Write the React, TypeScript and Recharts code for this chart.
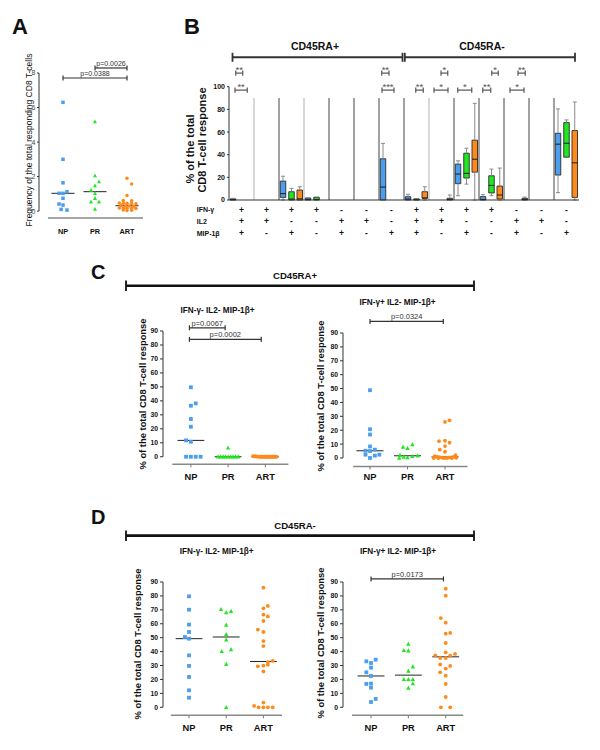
import React from 'react';
import { ScatterChart, Scatter, XAxis, YAxis, ReferenceLine, ReferenceArea } from 'recharts';

const FONT = '"Liberation Sans", Arial, Helvetica, sans-serif';
const BLUE = '#4b9eee';
const GREEN = '#22e622';
const ORANGE = '#ff8a1c';

const GROUPS = ['NP', 'PR', 'ART'];

// ---------- Panel A ----------
const A_NP = [6.3, 3.0, 1.64, 1.03, 1.03, 1.12, 0.74, 0.41, 0.35, 0.1, 0.06];
const A_NP_JIT = [0, 0, 0, -0.125, 0, 0.125, 0, -0.125, 0, -0.06, 0.125];
const A_PR = [5.18, 2.05, 1.7, 1.47, 1.22, 1.03, 0.74, 0.54, 0.54, 0.12];
const A_PR_JIT = [0, 0, 0.125, 0, -0.125, 0, 0, -0.125, 0.125, 0];
const A_ART = [1.9, 1.57, 0.9, 0.62, 0.6, 0.47, 0.45, 0.45, 0.44, 0.42, 0.32, 0.3, 0.3, 0.28, 0.18, 0.17, 0.16, 0.17, 0.15, 0.06, 0.04, 0.05];
const A_ART_JIT = [0, 0.145, 0, -0.115, 0.145, -0.24, -0.115, 0, 0.145, 0.28, -0.18, -0.05, 0.07, 0.21, -0.24, -0.115, 0, 0.145, 0.28, -0.115, 0, 0.145];
const A_TICKS = [0, 2, 4, 6, 8];
const A_BRACKETS = [
  { x1: 2, x2: 3, y: 8.29, label: 'p=0.0026' },
  { x1: 1, x2: 3, y: 7.71, label: 'p=0.0388' },
];

// ---------- Panel C ----------
const CD_TICKS = [0, 10, 20, 30, 40, 50, 60, 70, 80, 90];
const C1_NP = [49.7, 38.2, 36.5, 27, 21.5, 11.7, 10.7, 0, 0, 0, 0];
const C1_NP_JIT = [0, 0.13, 0, 0, 0, -0.13, 0, -0.13, 0, 0.13, 0.26];
const C1_PR = [6.4, 0, 0, 0, 0, 0, 0, 0, 0, 0];
const C1_PR_JIT = [0, -0.27, -0.2, -0.13, -0.07, 0, 0.07, 0.13, 0.2, 0.27];
const C1_ART = [0.4, 0.3, 0.2, 0.2, 0.1, 0.1, 0, 0, 0, 0, 0, 0, 0, 0, 0, 0, 0, 0, 0, 0, 0, 0];
const C1_ART_JIT = [-0.33, -0.3, -0.27, -0.24, -0.21, -0.18, -0.15, -0.12, -0.09, -0.06, -0.03, 0, 0.03, 0.06, 0.09, 0.12, 0.15, 0.18, 0.21, 0.24, 0.27, 0.3];
const C1_BRACKETS = [
  { x1: 0.96, x2: 1.92, y: 92.3, label: 'p=0.0067' },
  { x1: 0.96, x2: 2.89, y: 84, label: 'p=0.0002' },
];

const C2_NP = [48.8, 20.7, 16.9, 8.3, 6.0, 5.2, 5.0, 2.4, 2.4, 1.7, 0];
const C2_NP_JIT = [0, 0, 0, 0, 0.13, -0.12, 0, -0.12, 0.25, 0.13, 0];
const C2_PR = [9.8, 7.9, 7.1, 2.0, 1.6, 1.2, 0.7, 0.3, 0];
const C2_PR_JIT = [0.13, -0.12, 0, -0.2, 0.27, 0.13, -0.1, 0, -0.22];
const C2_ART = [27.1, 26.0, 12.4, 12.1, 11.0, 8.6, 6.0, 4.5, 2.1, 1.2, 0.9, 0.7, 0.6, 0.4, 0.3, 0.2, 0.1, 0, 0, 0, 0, 0];
const C2_ART_JIT = [0.12, 0, 0, -0.16, 0.12, 0, -0.14, 0, 0.28, -0.28, -0.22, 0.22, -0.15, 0.15, -0.08, 0.08, 0.3, -0.3, -0.04, 0.04, 0.18, -0.18];
const C2_BRACKETS = [{ x1: 1.0, x2: 2.955, y: 98.3, label: 'p=0.0324' }];

// ---------- Panel D ----------
const D1_NP = [79.7, 70.1, 59.4, 54.1, 50.5, 49.3, 37.3, 29.7, 21.8, 12.2, 6.9];
const D1_NP_JIT = [0, 0, 0, 0, -0.11, 0, 0, 0, 0, 0, 0];
const D1_PR = [70.4, 69, 68, 59.1, 52.4, 48.6, 41.6, 40.2, 30.9, 0];
const D1_PR_JIT = [-0.14, 0.13, 0, 0, 0, 0, 0.13, -0.12, 0, 0];
const D1_ART = [85.9, 72.8, 71.1, 66.5, 65.3, 62, 55.8, 54.1, 47.6, 44, 33.3, 32.5, 30.6, 29.9, 29.4, 25.8, 3.4, 1.0, 0, 0, 0, 0];
const D1_ART_JIT = [0, 0.12, 0, 0, 0.12, 0, -0.15, 0, 0, 0, 0.25, 0.12, 0.12, 0, -0.15, 0, 0, -0.25, -0.13, 0, 0.12, 0.25];

const D2_NP = [34.2, 33, 31.8, 28.5, 25.1, 22.5, 17, 16.8, 14.1, 6, 3.8];
const D2_NP_JIT = [0.125, -0.125, 0, 0, -0.125, 0, 0, -0.125, 0, 0.125, 0];
const D2_PR = [45.5, 40.9, 40.7, 29.2, 26.1, 20.1, 20.1, 20.1, 17, 13.9];
const D2_PR_JIT = [0, -0.12, 0, 0.12, 0, -0.12, 0, 0.12, 0.12, 0];
const D2_ART = [85.2, 80.2, 64.1, 60.8, 53.4, 52.9, 46.2, 39.5, 38.3, 37.3, 37.1, 35.4, 35.4, 30.8, 29.7, 27.8, 25.1, 22.7, 16.8, 7.4, 0, 0];
const D2_ART_JIT = [0, 0, -0.13, 0, 0.12, 0, 0, 0, 0.25, -0.28, 0.12, -0.15, 0, -0.15, 0.12, 0, -0.15, 0, 0, 0, -0.13, 0.12];
const D2_BRACKETS = [{ x1: 1.0, x2: 2.94, y: 92.2, label: 'p=0.0173' }];

// ---------- Panel B (box plots: [min, q1, median, q3, max]) ----------
const B_IFN = ['+', '+', '+', '+', '-', '-', '-', '+', '+', '+', '+', '-', '-', '-'];
const B_IL2 = ['+', '+', '-', '-', '+', '+', '-', '+', '+', '-', '-', '+', '+', '-'];
const B_MIP = ['+', '-', '+', '-', '+', '-', '+', '+', '-', '+', '-', '+', '-', '+'];
type Box = number[] | null;
const B_NP: Box[] = [
  [0, 0, 0.3, 1, 1.5], null, [0, 2.3, 5.6, 16.7, 21], [0, 0, 0.5, 1.8, 1.8], null, null, [0, 0, 11.4, 36.4, 50],
  [0, 0, 0.8, 2.9, 5], null, [3.8, 14.4, 22.9, 31.7, 34.6], [0, 0, 0.5, 3, 4.7], null, null, [6.5, 22, 49.3, 58.9, 80.4],
];
const B_PR: Box[] = [
  null, null, [0, 0, 0.8, 7.3, 10.3], [0, 0, 0.5, 2.5, 2.5], null, null, null,
  [0, 0, 0.3, 1, 1], null, [14, 19.4, 23.5, 41.3, 45.7], [3.8, 6.2, 12.9, 21.4, 27.3], null, null, [37.8, 37.8, 50.1, 68.3, 70.7],
];
const B_ART: Box[] = [
  null, null, [0, 0, 1, 8.8, 11.7], null, null, null, null,
  [0, 1.5, 1.8, 7.3, 11.7], [0, 0, 0.5, 1.5, 4.4], [0, 24.6, 36, 52.8, 85.3], [0, 0.9, 4.4, 12.3, 28.2], [0, 0, 0.5, 1.5, 2.6], null, [0, 2.3, 32.8, 61.3, 86.5],
];
const B_TICKS = [0, 20, 40, 60, 80, 100];
const B_LIGHT_SEPARATORS = [1, 3, 8];
const B_BRACKETS = [
  { x1: 0.27, x2: 0.55, y: 112, label: '**' },
  { x1: 6.11, x2: 6.4, y: 112, label: '**' },
  { x1: 8.48, x2: 8.75, y: 112, label: '*' },
  { x1: 10.51, x2: 10.77, y: 112, label: '*' },
  { x1: 11.56, x2: 11.85, y: 112, label: '**' },
  { x1: 0.24, x2: 0.73, y: 97, label: '**' },
  { x1: 6.12, x2: 6.6, y: 97, label: '***' },
  { x1: 7.47, x2: 7.77, y: 97, label: '**' },
  { x1: 8.2, x2: 8.76, y: 97, label: '*' },
  { x1: 9.15, x2: 9.71, y: 97, label: '*' },
  { x1: 10.15, x2: 10.47, y: 97, label: '**' },
  { x1: 11.24, x2: 11.8, y: 97, label: '*' },
];

const median = (a: number[]) => {
  const s = [...a].sort((p, q) => p - q);
  const n = s.length;
  return n % 2 ? s[(n - 1) / 2] : (s[n / 2 - 1] + s[n / 2]) / 2;
};

type Kind = 'square' | 'triangle' | 'circle';
const makeShape = (kind: Kind, color: string, size: number) => (p: any) => {
  const { cx, cy } = p;
  if (cx == null || cy == null) return <g />;
  if (kind === 'square')
    return <rect x={cx - size / 2} y={cy - size / 2} width={size} height={size} fill={color} />;
  if (kind === 'triangle') {
    const w = size * 1.15;
    return (
      <polygon
        points={`${cx},${cy - w * 0.55} ${cx - w / 2},${cy + w * 0.4} ${cx + w / 2},${cy + w * 0.4}`}
        fill={color}
      />
    );
  }
  return <circle cx={cx} cy={cy} r={size / 2} fill={color} />;
};

const bracketEls = (
  key: string,
  b: { x1: number; x2: number; y: number; label: string },
  cap: number,
  color: string,
  fontSize: number,
  sw: number,
  gap: number
) => [
  <ReferenceLine
    key={key + 'h'}
    segment={[{ x: b.x1, y: b.y }, { x: b.x2, y: b.y }]}
    stroke={color}
    strokeWidth={sw}
    ifOverflow="visible"
    label={(p: any) => {
      const vb = p && p.viewBox;
      if (!vb || vb.x == null) return <g />;
      return (
        <text
          x={vb.x + (vb.width || 0) / 2}
          y={vb.y - gap}
          textAnchor="middle"
          fontSize={fontSize}
          fill={color}
          stroke="none"
          fontFamily={FONT}
        >
          {b.label}
        </text>
      );
    }}
  />,
  <ReferenceLine
    key={key + 'l'}
    segment={[{ x: b.x1, y: b.y - cap }, { x: b.x1, y: b.y + cap }]}
    stroke={color}
    strokeWidth={sw}
    ifOverflow="visible"
  />,
  <ReferenceLine
    key={key + 'r'}
    segment={[{ x: b.x2, y: b.y - cap }, { x: b.x2, y: b.y + cap }]}
    stroke={color}
    strokeWidth={sw}
    ifOverflow="visible"
  />,
];

type Series = { values: number[]; jitter: number[]; color: string; kind: Kind };

function DotPanel(props: {
  left: number;
  top: number;
  right: number;
  bottom: number;
  xDomain: [number, number];
  yDomain: [number, number];
  yTicks: number[];
  axisX: [number, number];
  series: Series[];
  brackets: { x1: number; x2: number; y: number; label: string }[];
  cap: number;
  small?: boolean;
  catDy: number;
  marker: number;
}) {
  const { left, top, right, bottom, xDomain, yDomain, yTicks, axisX, series, brackets, cap, small, catDy, marker } = props;
  const YW = 40, MT = 40, MR = 12, XH = 30;
  const width = YW + (right - left) + MR;
  const height = MT + (bottom - top) + XH;
  const yMax = yTicks[yTicks.length - 1];
  const xTickSize = small ? 0 : 3;
  return (
    <div style={{ position: 'absolute', left: left - YW, top: top - MT, width, height }}>
      <ScatterChart width={width} height={height} margin={{ top: MT, right: MR, bottom: 0, left: 0 }}>
        <XAxis
          type="number"
          dataKey="x"
          domain={xDomain}
          ticks={[1, 2, 3]}
          interval={0}
          axisLine={false}
          tickLine={small ? false : { stroke: '#777' }}
          tickSize={xTickSize}
          tickMargin={0}
          height={XH}
          tick={(p: any) => (
            <text
              x={p.x}
              y={p.y + catDy}
              dy="0.35em"
              textAnchor="middle"
              fontSize={small ? 7.3 : 9.3}
              fontWeight="bold"
              fontFamily={FONT}
              fill="#111"
            >
              {GROUPS[Math.round(p.payload.value) - 1]}
            </text>
          )}
        />
        <YAxis
          type="number"
          dataKey="y"
          domain={yDomain}
          ticks={yTicks}
          interval={0}
          axisLine={false}
          tickLine={{ stroke: '#333' }}
          tickSize={small ? 2 : 3}
          tickMargin={small ? 1.5 : 2}
          width={YW}
          tick={
            small
              ? { fontSize: 7, fill: '#444', fontFamily: FONT }
              : { fontSize: 6.8, fill: '#111', fontWeight: 'bold', fontFamily: FONT }
          }
        />
        <ReferenceLine
          segment={[{ x: axisX[0], y: yDomain[0] }, { x: axisX[1], y: yDomain[0] }]}
          stroke="#888"
          strokeWidth={1.5}
          ifOverflow="visible"
        />
        <ReferenceLine
          segment={[{ x: xDomain[0], y: 0 }, { x: xDomain[0], y: yMax }]}
          stroke="#333"
          strokeWidth={1}
          ifOverflow="visible"
        />
        {series.map((s, i) => (
          <Scatter
            key={'s' + i}
            data={s.values.map((v, j) => ({ x: i + 1 + s.jitter[j], y: v }))}
            shape={makeShape(s.kind, s.color, marker)}
            isAnimationActive={false}
          />
        ))}
        {series.map((s, i) => {
          const m = median(s.values);
          return (
            <ReferenceLine
              key={'m' + i}
              segment={[{ x: i + 1 - 0.36, y: m }, { x: i + 1 + 0.36, y: m }]}
              stroke="#222"
              strokeWidth={1}
              ifOverflow="visible"
            />
          );
        })}
        {brackets.flatMap((b, i) => bracketEls('b' + i, b, cap, '#333', small ? 7 : 7.5, 1.2, 2))}
      </ScatterChart>
    </div>
  );
}

const BOX_OFFSETS = [-0.34, 0, 0.33];
const BOX_HALF = 0.11;

function BoxPanel() {
  const left = 229, right = 579, top = 86.7;
  const YW = 49, MR = 21, XH = 40;
  const width = YW + (right - left) + MR;
  const height = 240;
  const sets: { boxes: Box[]; color: string }[] = [
    { boxes: B_NP, color: BLUE },
    { boxes: B_PR, color: GREEN },
    { boxes: B_ART, color: ORANGE },
  ];
  const els: any[] = [];
  for (let k = 1; k <= 13; k++) {
    els.push(
      <ReferenceLine
        key={'sep' + k}
        segment={[{ x: k, y: 0 }, { x: k, y: 90 }]}
        stroke={B_LIGHT_SEPARATORS.includes(k) ? '#b0b0b0' : '#444'}
        strokeWidth={1}
        ifOverflow="visible"
      />
    );
  }
  sets.forEach((set, si) => {
    set.boxes.forEach((b, g) => {
      if (!b) return;
      const c = g + 0.5 + BOX_OFFSETS[si];
      const [mn, q1, md, q3, mx] = b;
      if (mx > q3) {
        els.push(
          <ReferenceLine key={`wu${si}-${g}`} segment={[{ x: c, y: q3 }, { x: c, y: mx }]} stroke="#8a8a8a" strokeWidth={1} ifOverflow="visible" />,
          <ReferenceLine key={`cu${si}-${g}`} segment={[{ x: c - 0.08, y: mx }, { x: c + 0.08, y: mx }]} stroke="#8a8a8a" strokeWidth={1} ifOverflow="visible" />
        );
      }
      if (mn < q1) {
        els.push(
          <ReferenceLine key={`wl${si}-${g}`} segment={[{ x: c, y: mn }, { x: c, y: q1 }]} stroke="#8a8a8a" strokeWidth={1} ifOverflow="visible" />,
          <ReferenceLine key={`cl${si}-${g}`} segment={[{ x: c - 0.08, y: mn }, { x: c + 0.08, y: mn }]} stroke="#8a8a8a" strokeWidth={1} ifOverflow="visible" />
        );
      }
      els.push(
        <ReferenceArea
          key={`bx${si}-${g}`}
          x1={c - BOX_HALF}
          x2={c + BOX_HALF}
          y1={q1}
          y2={q3}
          fill={set.color}
          fillOpacity={1}
          stroke="#2a2a2a"
          strokeWidth={0.9}
          ifOverflow="visible"
        />,
        <ReferenceLine
          key={`md${si}-${g}`}
          segment={[{ x: c - BOX_HALF, y: md }, { x: c + BOX_HALF, y: md }]}
          stroke="#1a1a1a"
          strokeWidth={1}
          ifOverflow="visible"
        />
      );
    });
  });
  const rows = [B_IFN, B_IL2, B_MIP];
  const rowDy = [9.7, 21.4, 33];
  return (
    <div style={{ position: 'absolute', left: left - YW, top: 0, width, height }}>
      <ScatterChart width={width} height={height} margin={{ top, right: MR, bottom: 0, left: 0 }}>
        <XAxis
          type="number"
          dataKey="x"
          domain={[0, 14]}
          ticks={B_IFN.map((_, i) => i + 0.5)}
          interval={0}
          axisLine={{ stroke: '#333' }}
          tickLine={false}
          tickSize={0}
          tickMargin={0}
          height={XH}
          tick={(p: any) => {
            const i = Math.floor(p.payload.value);
            return (
              <g>
                {rows.map((row, r) => (
                  <text
                    key={r}
                    x={p.x}
                    y={p.y + rowDy[r]}
                    dy="0.35em"
                    textAnchor="middle"
                    fontSize={8.5}
                    fontWeight="bold"
                    fontFamily={FONT}
                    fill="#111"
                  >
                    {row[i]}
                  </text>
                ))}
              </g>
            );
          }}
        />
        <YAxis
          type="number"
          dataKey="y"
          domain={[0, 100]}
          ticks={B_TICKS}
          interval={0}
          axisLine={{ stroke: '#333' }}
          tickLine={{ stroke: '#333' }}
          tickSize={2}
          tickMargin={2}
          width={YW}
          tick={{ fontSize: 7, fill: '#111', fontWeight: 'bold', fontFamily: FONT }}
        />
        <Scatter data={[{ x: 0.5, y: 0 }]} shape={() => <g />} isAnimationActive={false} />
        {els}
        {B_BRACKETS.flatMap((b, i) => bracketEls('bb' + i, b, 2.3, '#555', 9.5, 1.2, 0.5))}
      </ScatterChart>
    </div>
  );
}

function RotText(props: { x: number; y: number; size: number; bold?: boolean; children: string }) {
  const { x, y, size, bold, children } = props;
  return (
    <text
      x={x}
      y={y}
      dy="0.35em"
      transform={`rotate(-90, ${x}, ${y})`}
      textAnchor="middle"
      fontSize={size}
      fontWeight={bold ? 'bold' : 'normal'}
      fontFamily={FONT}
      fill="#111"
    >
      {children}
    </text>
  );
}

function HeaderBar(props: { x1: number; x2: number; y: number; w: number; capH: number; color: string }) {
  const { x1, x2, y, w, capH, color } = props;
  return (
    <g stroke={color}>
      <line x1={x1} y1={y} x2={x2} y2={y} strokeWidth={w} />
      <line x1={x1} y1={y - capH} x2={x1} y2={y + capH} strokeWidth={1.8} />
      <line x1={x2} y1={y - capH} x2={x2} y2={y + capH} strokeWidth={1.8} />
    </g>
  );
}

function Overlay() {
  const T = (p: any) => <text fontFamily={FONT} fill="#111" {...p} />;
  return (
    <svg width={600} height={750} style={{ position: 'absolute', left: 0, top: 0 }}>
      <T x={12} y={34} fontSize={22} fontWeight="bold">A</T>
      <T x={184} y={34} fontSize={22} fontWeight="bold">B</T>
      <T x={91} y={279} fontSize={20} fontWeight="bold">C</T>
      <T x={91} y={524} fontSize={20} fontWeight="bold">D</T>

      <T x={315} y={50} fontSize={10.5} fontWeight="bold" textAnchor="middle">CD45RA+</T>
      <T x={482} y={50} fontSize={10.5} fontWeight="bold" textAnchor="middle">CD45RA-</T>
      <HeaderBar x1={232.5} x2={402.5} y={57.3} w={2} capH={4.5} color="#333" />
      <HeaderBar x1={404.8} x2={575} y={57.3} w={2} capH={4.5} color="#333" />

      <T x={295} y={278.5} fontSize={9.6} fontWeight="bold" textAnchor="middle">CD45RA+</T>
      <HeaderBar x1={126} x2={474} y={285.7} w={2.6} capH={5.2} color="#111" />
      <T x={295} y={528.5} fontSize={9.6} fontWeight="bold" textAnchor="middle">CD45RA-</T>
      <HeaderBar x1={126} x2={474} y={535.7} w={2.8} capH={5.2} color="#111" />

      <T x={217.5} y={313} fontSize={8.2} fontWeight="bold" textAnchor="middle">IFN-γ- IL2- MIP-1β+</T>
      <T x={397.5} y={305} fontSize={8.2} fontWeight="bold" textAnchor="middle">IFN-γ+ IL2- MIP-1β+</T>
      <T x={216.7} y={554} fontSize={8.2} fontWeight="bold" textAnchor="middle">IFN-γ- IL2- MIP-1β+</T>
      <T x={398} y={554} fontSize={8.2} fontWeight="bold" textAnchor="middle">IFN-γ+ IL2- MIP-1β+</T>

      <T x={196.7} y={210} dy="0.35em" fontSize={7} fontWeight="bold">IFN-γ</T>
      <T x={196.7} y={221.7} dy="0.35em" fontSize={7} fontWeight="bold">IL2</T>
      <T x={196.7} y={233.3} dy="0.35em" fontSize={7} fontWeight="bold">MIP-1β</T>

      <RotText x={29} y={140} size={8.5}>Frequency of the total responding CD8 T-cells</RotText>
      <RotText x={190} y={149} size={11} bold>% of the total</RotText>
      <RotText x={202} y={140} size={11} bold>CD8 T-cell response</RotText>
      <RotText x={142.5} y={394} size={9.4} bold>% of the total CD8 T-cell response</RotText>
      <RotText x={320.8} y={396} size={9.4} bold>% of the total CD8 T-cell response</RotText>
      <RotText x={137.5} y={644} size={9.4} bold>% of the total CD8 T-cell response</RotText>
      <RotText x={320.8} y={643} size={9.4} bold>% of the total CD8 T-cell response</RotText>
    </svg>
  );
}

export default function App() {
  return (
    <div style={{ position: 'absolute', left: 0, top: 0, width: 600, height: 750, background: '#fff', fontFamily: FONT }}>
      <Overlay />
      <DotPanel
        left={39}
        right={143}
        top={73}
        bottom={218}
        xDomain={[0.25, 3.5]}
        yDomain={[-0.4, 8]}
        yTicks={A_TICKS}
        axisX={[0.53, 3.5]}
        small
        catDy={13}
        marker={3.5}
        cap={0.15}
        brackets={A_BRACKETS}
        series={[
          { values: A_NP, jitter: A_NP_JIT, color: BLUE, kind: 'square' },
          { values: A_PR, jitter: A_PR_JIT, color: GREEN, kind: 'triangle' },
          { values: A_ART, jitter: A_ART_JIT, color: ORANGE, kind: 'circle' },
        ]}
      />
      <BoxPanel />
      <DotPanel
        left={162.8}
        right={289.3}
        top={331}
        bottom={464.3}
        xDomain={[0.25, 3.65]}
        yDomain={[-5.4, 90]}
        yTicks={CD_TICKS}
        axisX={[0.5, 3.62]}
        catDy={9.7}
        marker={3.8}
        cap={1.8}
        brackets={C1_BRACKETS}
        series={[
          { values: C1_NP, jitter: C1_NP_JIT, color: BLUE, kind: 'square' },
          { values: C1_PR, jitter: C1_PR_JIT, color: GREEN, kind: 'triangle' },
          { values: C1_ART, jitter: C1_ART_JIT, color: ORANGE, kind: 'circle' },
        ]}
      />
      <DotPanel
        left={343}
        right={469.4}
        top={333.3}
        bottom={466.7}
        xDomain={[0.28, 3.65]}
        yDomain={[-6.05, 90]}
        yTicks={CD_TICKS}
        axisX={[0.55, 3.6]}
        catDy={7.3}
        marker={3.8}
        cap={1.8}
        brackets={C2_BRACKETS}
        series={[
          { values: C2_NP, jitter: C2_NP_JIT, color: BLUE, kind: 'square' },
          { values: C2_PR, jitter: C2_PR_JIT, color: GREEN, kind: 'triangle' },
          { values: C2_ART, jitter: C2_ART_JIT, color: ORANGE, kind: 'circle' },
        ]}
      />
      <DotPanel
        left={163}
        right={282}
        top={581.7}
        bottom={715}
        xDomain={[0.3, 3.5]}
        yDomain={[-5.75, 90]}
        yTicks={CD_TICKS}
        axisX={[0.51, 3.5]}
        catDy={9}
        marker={3.8}
        cap={1.8}
        brackets={[]}
        series={[
          { values: D1_NP, jitter: D1_NP_JIT, color: BLUE, kind: 'square' },
          { values: D1_PR, jitter: D1_PR_JIT, color: GREEN, kind: 'triangle' },
          { values: D1_ART, jitter: D1_ART_JIT, color: ORANGE, kind: 'circle' },
        ]}
      />
      <DotPanel
        left={343}
        right={464.4}
        top={581.7}
        bottom={715}
        xDomain={[0.25, 3.5]}
        yDomain={[-5.75, 90]}
        yTicks={CD_TICKS}
        axisX={[0.49, 3.47]}
        catDy={9}
        marker={3.8}
        cap={1.8}
        brackets={D2_BRACKETS}
        series={[
          { values: D2_NP, jitter: D2_NP_JIT, color: BLUE, kind: 'square' },
          { values: D2_PR, jitter: D2_PR_JIT, color: GREEN, kind: 'triangle' },
          { values: D2_ART, jitter: D2_ART_JIT, color: ORANGE, kind: 'circle' },
        ]}
      />
    </div>
  );
}
